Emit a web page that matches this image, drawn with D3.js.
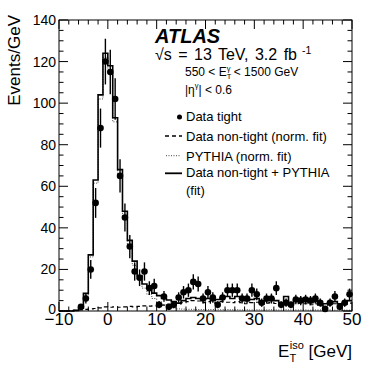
<!DOCTYPE html>
<html><head><meta charset="utf-8">
<script src="https://cdn.jsdelivr.net/npm/d3@7"></script>
<style>
html,body{margin:0;padding:0;background:#fff;}
svg{display:block;font-family:"Liberation Sans",Arial,Helvetica,sans-serif;}
</style></head>
<body>
<svg id="c" width="371" height="371"></svg>
<script>
// ---- data ----
const binLow = [-10,-9,-8,-7,-6,-5,-4,-3,-2,-1,0,1,2,3,4,5,6,7,8,9,10,11,12,13,14,15,16,17,18,19,20,21,22,23,24,25,26,27,28,29,30,31,32,33,34,35,36,37,38,39,40,41,42,43,44,45,46,47,48,49];
const fitTotal = [0,0,0,0.3,1.5,8.5,27,63,104,124,118,93,68,48,34,24,17,13,11,8.6,7.4,6,5.3,4.5,3.8,5,6,6.5,6,5.5,6,5,5.5,6.5,7,6,7,6,5,5.5,6,4,5,6,5,4,7,4,5,4.5,5,4,4.5,3,3.5,4,4.5,3.5,4,5];
const nonTight = [0,0,0.2,0.3,0.5,0.8,1,1.2,1.5,2,1.8,2,1.8,2,2.2,2,2.2,2.5,2.3,2.5,3,2.8,3.2,3,3.4,4,4.5,5,4.8,4,4.5,3.8,4,4.5,4.2,4,4.5,4,3.5,4,4.2,3.2,3.8,4,3.6,3,5,3.2,3.5,3.8,3.5,3,3.4,2.5,2.8,3.2,3.5,2.8,3.2,3.8];
const pythia = [0,0,0,0.1,1,7.5,26,61.5,102,122,116,91,66,46,32,22,15,11,8,6,4.5,3,2,1.5,1,0.9,0.8,0.8,0.7,0.7,0.6,0.7,0.6,0.6,0.7,0.6,0.6,0.5,0.6,0.5,0.6,0.5,0.5,0.6,0.5,0.5,0.6,0.5,0.5,0.5,0.5,0.4,0.5,0.5,0.4,0.5,0.4,0.5,0.4,0.4];
const dataX = [-5.5,-4.5,-3.5,-2.5,-1.5,-0.5,0.5,1.5,2.5,3.5,4.5,5.5,6.5,7.5,8.5,9.5,10.5,11.5,12.5,13.5,14.5,15.5,16.5,17.5,18.5,19.5,20.5,21.5,22.5,23.5,24.5,25.5,26.5,27.5,28.5,29.5,30.5,31.5,32.5,33.5,34.5,35.5,36.5,37.5,38.5,39.5,40.5,41.5,42.5,43.5,44.5,45.5,46.5,47.5,48.5,49.5];
const dataY = [2,6,20,52,88,120,115,102,65,45,31,19,16,19,11,12,3,7,2,3,6.5,9,10,14,13,6,9,6.5,3,6.5,10,10,10,6,6,10,8,4,6,6,11,3,4,3,5.5,5,5.5,5,6,4,1,4,7,2,4,8];
const dataErr = [1.4,2.4,4.5,7.2,9.4,11,10.7,10,8,6.7,5.6,4.4,4,4.4,3.3,3.5,1.7,2.6,1.4,1.7,2.5,3,3.2,3.7,3.6,2.4,3,2.5,1.7,2.5,3.2,3.2,3.2,2.4,2.4,3.2,2.8,2,2.4,2.4,3.3,1.7,2,1.7,2.3,2.2,2.3,2.2,2.4,2,1,2,2.6,1.4,2,2.8];
const xTicks = [-10,0,10,20,30,40,50];
const yTicks = [0,20,40,60,80,100,120,140];

// ---- layout ----
const svg = d3.select("#c");
const L=59, R=352, T=20, B=311;
const x = d3.scaleLinear().domain([-10,50]).range([L,R]);
const y = d3.scaleLinear().domain([0,140]).range([B,T]);

function stepPath(vals){
  let p = "";
  binLow.forEach((lo,i)=>{
    const x0=x(lo), x1=x(lo+1), yy=y(vals[i]);
    p += (i===0? "M"+x0+","+yy : "L"+x0+","+yy) + "L"+x1+","+yy;
  });
  return p;
}
const g = svg.append("g");
g.append("path").attr("d",stepPath(nonTight)).attr("fill","none").attr("stroke","#000").attr("stroke-width",1.2).attr("stroke-dasharray","4,3");
g.append("path").attr("d",stepPath(pythia)).attr("fill","none").attr("stroke","#444").attr("stroke-width",1).attr("stroke-dasharray","1,1.5");
g.append("path").attr("d",stepPath(fitTotal)).attr("fill","none").attr("stroke","#000").attr("stroke-width",1.6);

// data points
const pts = dataX.map((d,i)=>({x:d,y:dataY[i],e:dataErr[i]}));
g.selectAll("line.err").data(pts).enter().append("line")
  .attr("x1",d=>x(d.x)).attr("x2",d=>x(d.x))
  .attr("y1",d=>y(Math.max(0,d.y-d.e))).attr("y2",d=>y(d.y+d.e))
  .attr("stroke","#000").attr("stroke-width",1.4);
g.selectAll("circle").data(pts).enter().append("circle")
  .attr("cx",d=>x(d.x)).attr("cy",d=>y(d.y)).attr("r",3.3).attr("fill","#000");

// frame and axes
svg.append("rect").attr("x",L).attr("y",T).attr("width",R-L).attr("height",B-T).attr("fill","none").attr("stroke","#000").attr("stroke-width",1);
const ax = svg.append("g").attr("stroke","#000").attr("stroke-width",1);
x.ticks(30).forEach(v=>{
  const major = xTicks.includes(v);
  const len = major?9:4.5;
  ax.append("line").attr("x1",x(v)).attr("x2",x(v)).attr("y1",B).attr("y2",B-len);
  ax.append("line").attr("x1",x(v)).attr("x2",x(v)).attr("y1",T).attr("y2",T+len);
});
y.ticks(35).forEach(v=>{
  const major = yTicks.includes(v);
  const len = major?9:4.5;
  ax.append("line").attr("x1",L).attr("x2",L+len).attr("y1",y(v)).attr("y2",y(v));
  ax.append("line").attr("x1",R).attr("x2",R-len).attr("y1",y(v)).attr("y2",y(v));
});
svg.append("g").selectAll("text").data(xTicks).enter().append("text")
  .attr("x",d=>x(d)).attr("y",B+14).attr("text-anchor","middle").attr("font-size",17)
  .text(d=>d<0? "\u2212"+Math.abs(d) : d);
svg.append("g").selectAll("text").data(yTicks).enter().append("text")
  .attr("x",L-3).attr("y",d=>y(d)+(d===0?3:5)).attr("text-anchor","end").attr("font-size",14)
  .text(d=>d);

// axis titles
svg.append("text").attr("transform","translate(20,15) rotate(-90)").attr("text-anchor","end").attr("font-size",17).text("Events/GeV");
const xt = svg.append("text").attr("x",R).attr("y",357).attr("text-anchor","end").attr("font-size",17);
xt.append("tspan").text("E");
xt.append("tspan").attr("font-size",11).attr("dy",5).text("T");
xt.append("tspan").attr("font-size",11).attr("dx",-6).attr("dy",-13).text("iso");
xt.append("tspan").attr("dy",8).text(" [GeV]");

// annotations
svg.append("text").attr("x",155).attr("y",43).attr("font-size",20).attr("font-weight","bold").attr("font-style","italic").text("ATLAS");
const s1 = svg.append("text").attr("x",155).attr("y",59.5).attr("font-size",16).attr("word-spacing",2);
s1.append("tspan").text("\u221As = 13 TeV, 3.2 fb");
s1.append("tspan").attr("font-size",10.5).attr("dy",-6).text(" -1");
const s2 = svg.append("text").attr("x",185).attr("y",76).attr("font-size",12);
s2.append("tspan").text("550 < E");
s2.append("tspan").attr("font-size",7.5).attr("dy",3).text("T");
s2.append("tspan").attr("font-size",7.5).attr("dx",-4.6).attr("dy",-8.5).text("\u03B3");
s2.append("tspan").attr("dy",5.5).text(" < 1500 GeV");
const s3 = svg.append("text").attr("x",185).attr("y",94).attr("font-size",12);
s3.append("tspan").text("|\u03B7");
s3.append("tspan").attr("font-size",7.5).attr("dy",-6).text("\u03B3");
s3.append("tspan").attr("dy",6).text("| < 0.6");

// legend
const lg = svg.append("g").attr("font-size",13);
svg.append("circle").attr("cx",179.5).attr("cy",117).attr("r",2.5).attr("fill","#000");
lg.append("text").attr("x",186).attr("y",121).text("Data tight");
svg.append("line").attr("x1",165).attr("x2",182).attr("y1",136).attr("y2",136).attr("stroke","#000").attr("stroke-width",1.3).attr("stroke-dasharray","4,3");
lg.append("text").attr("x",186).attr("y",140.7).text("Data non-tight (norm. fit)");
svg.append("line").attr("x1",166).attr("x2",181).attr("y1",155.7).attr("y2",155.7).attr("stroke","#444").attr("stroke-width",1).attr("stroke-dasharray","1,1.5");
lg.append("text").attr("x",186).attr("y",161).text("PYTHIA (norm. fit)");
svg.append("line").attr("x1",165).attr("x2",182).attr("y1",173.3).attr("y2",173.3).attr("stroke","#000").attr("stroke-width",1.8);
lg.append("text").attr("x",186).attr("y",177.3).text("Data non-tight + PYTHIA");
lg.append("text").attr("x",186).attr("y",194.5).text("(fit)");
</script>
</body></html>
